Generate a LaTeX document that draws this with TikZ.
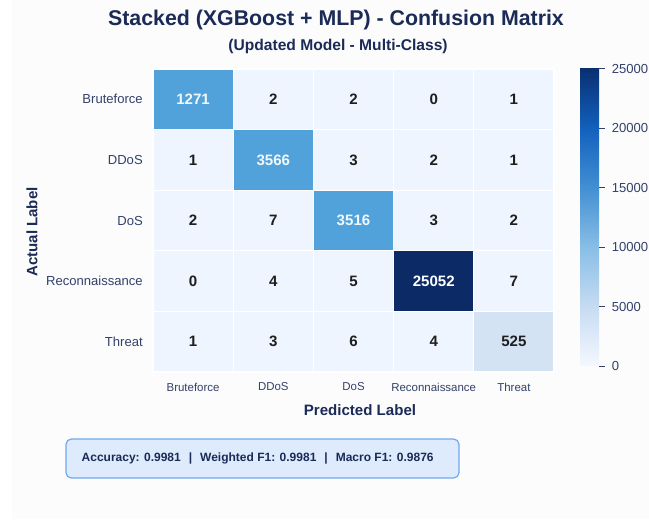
\documentclass[tikz,border=0pt]{standalone}
\usepackage{fontspec}
\setmainfont{Liberation Sans}
\usetikzlibrary{positioning,calc}

% --- 颜色 ---
\definecolor{navy}{HTML}{1B2B57}
\definecolor{labtxt}{HTML}{33416B}
\definecolor{numtxt}{HTML}{1E1E1E}
\definecolor{cellZ}{HTML}{EEF5FE}
\definecolor{cellL}{HTML}{D3E3F4}
\definecolor{cellM}{HTML}{51A2DB}
\definecolor{cellD}{HTML}{0B2A66}
\definecolor{boxfill}{HTML}{DDEBFC}
\definecolor{boxline}{HTML}{6FAAF0}
\definecolor{cardbg}{HTML}{FCFCFD}
\definecolor{cb0}{HTML}{F4F8FF}
\definecolor{cb1}{HTML}{C6DBF2}
\definecolor{cb2}{HTML}{88BEE6}
\definecolor{cb3}{HTML}{428FD3}
\definecolor{cb4}{HTML}{1260BD}
\definecolor{cb5}{HTML}{0A2F72}

% 色条的渐变
\pgfdeclareverticalshading{cbar}{100bp}{color(0bp)=(cb0); color(25bp)=(cb0); color(35bp)=(cb1); color(45bp)=(cb2); color(55bp)=(cb3); color(65bp)=(cb4); color(75bp)=(cb5); color(100bp)=(cb5)}

\begin{document}
\begin{tikzpicture}[
    x=0.75pt, y=-0.75pt,
    font=\fontsize{9.8}{11}\selectfont,
    title/.style={font=\fontsize{16}{19}\selectfont\bfseries, text=navy},
    subtitle/.style={font=\fontsize{11.7}{14}\selectfont\bfseries, text=navy},
    cell/.style={draw=white, line width=0.8pt, minimum width=60.15pt, minimum height=45.45pt,
                 inner sep=0pt, font=\fontsize{11.3}{13}\selectfont\bfseries},
    rowlab/.style={anchor=east, inner sep=0pt, text=labtxt},
    collab/.style={inner sep=0pt, text=labtxt, font=\fontsize{8.6}{10}\selectfont},
    axlab/.style={inner sep=0pt, text=navy, font=\fontsize{11.3}{13}\selectfont\bfseries},
    tick/.style={labtxt, line width=0.8pt},
    ticklab/.style={right, inner sep=0pt, xshift=4.5pt, text=labtxt, font=\fontsize{9.8}{11}\selectfont},
    metricbox/.style={draw=boxline, fill=boxfill, line width=0.9pt, rounded corners=4pt,
                      minimum width=294.75pt, minimum height=29.25pt},
    metric/.style={anchor=west, inner sep=0pt, text=navy, font=\fontsize{9}{11}\selectfont\bfseries}
]

    % --- 画布 ---
    \clip (0,0) rectangle (649,519);
    \fill[white] (0,0) rectangle (649,519);
    \fill[cardbg] (12,0) rectangle (649,519);

    % 单元格尺寸
    \def\cw{80.2}
    \def\ch{60.6}

    % --- 标题 ---
    \node[title] (Title) at (336,20) {Stacked (XGBoost + MLP) - Confusion Matrix};
    \node[subtitle] (Sub) at (338,46) {(Updated Model - Multi-Class)};

    % --- 混淆矩阵 ---
    \foreach \row [count=\r] in {{1271,2,2,0,1},{1,3566,3,2,1},{2,7,3516,3,2},{0,4,5,25052,7},{1,3,6,4,525}}{
        \foreach \v [count=\c] in \row {
            \ifnum\v>20000\relax \def\cf{cellD}\def\ct{white}%
            \else\ifnum\v>1000\relax \def\cf{cellM}\def\ct{white!92!cellM}%
            \else\ifnum\v>100\relax \def\cf{cellL}\def\ct{numtxt}%
            \else \def\cf{cellZ}\def\ct{numtxt}\fi\fi\fi
            \node[cell, fill=\cf, text=\ct] (C\r\c) at ({153+(\c-0.5)*\cw},{69+(\r-0.5)*\ch}) {\v};
        }
    }

    % --- 行、列标签 ---
    \foreach \n [count=\r] in {Bruteforce,DDoS,DoS,Reconnaissance,Threat}{
        \node[rowlab] (R\r) at (143,{69+(\r-0.5)*\ch}) {\n};
        \node[collab] (K\r) at ({153+(\r-0.5)*\cw},387) {\n};
    }

    % 坐标轴标题
    \node[axlab] (XL) at (360,410) {Predicted Label};
    \node[axlab, rotate=90] (YL) at (32,232) {Actual Label};

    % --- 色条 (刻度位置 = 数值/25052) ---
    \node[shading=cbar, minimum width=14.25pt, minimum height=223.1pt, inner sep=0pt] (Bar) at (589.5,217.25) {};
    \foreach \t/\f in {0/0,5000/0.19958,10000/0.39917,15000/0.59875,20000/0.79834,25000/0.99792}{
        \coordinate (T\t) at ($(Bar.south east)!\f!(Bar.north east)$);
        \draw[tick] (T\t) -- ++(6,0) node[ticklab] (TL\t) {\t};
    }

    % --- 指标框 ---
    \node[metricbox] (Box) at (262.5,458.5) {};
    \node[metric] (Met) at ([xshift=12pt]Box.west)
        {Accuracy: 0.9981\hspace{6pt}|\hspace{6pt}Weighted F1: 0.9981\hspace{6pt}|\hspace{6pt}Macro F1: 0.9876};
\end{tikzpicture}
\end{document}
